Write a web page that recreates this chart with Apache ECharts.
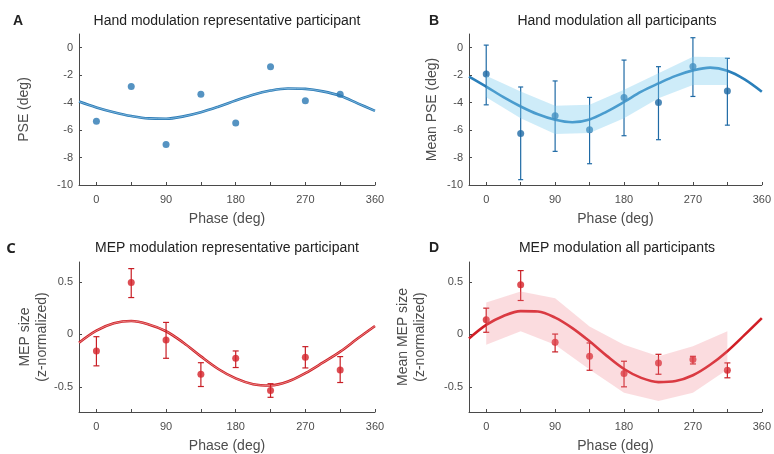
<!DOCTYPE html>
<html><head><meta charset="utf-8">
<script src="https://cdn.jsdelivr.net/npm/echarts@6/dist/echarts.min.js"></script>
<style>html,body{margin:0;padding:0;background:#fff}#c{width:774px;height:454px}</style>
</head><body><div id="c"></div>
<script>
// ---- data ----
const phases = [0, 45, 90, 135, 180, 225, 270, 315];
const fitPhases = [-22.5, 0, 22.5, 45, 67.5, 90, 112.5, 135, 157.5, 180, 202.5, 225, 247.5, 270, 292.5, 315, 337.5, 360];

// A: hand, representative participant
const aPSE = [-5.35, -2.83, -7.05, -3.39, -5.49, -1.38, -3.87, -3.39];
const aFit = [-3.92, -4.35, -4.7, -4.98, -5.15, -5.17, -5.0, -4.7, -4.3, -3.85, -3.42, -3.12, -2.97, -3.0, -3.18, -3.5, -4.05, -4.6];

// B: hand, all participants
const bMean = [-1.91, -6.25, -4.95, -5.97, -3.62, -3.99, -1.37, -3.16];
const bHi = [0.19, -2.86, -2.42, -3.62, -0.9, -1.38, 0.73, -0.77];
const bLo = [-4.16, -9.61, -7.55, -8.45, -6.41, -6.7, -3.55, -5.64];
const bFit = [-2.1, -2.83, -3.6, -4.28, -4.85, -5.25, -5.43, -5.22, -4.65, -3.95, -3.2, -2.6, -2.05, -1.65, -1.45, -1.67, -2.3, -3.2];
const bBandHi = [-2.05, -3.19, -4.23, -4.16, -3.07, -1.86, -0.65, -0.7];
const bBandLo = [-3.6, -5.13, -6.29, -6.22, -5.13, -3.68, -2.71, -2.71];

// C: MEP, representative participant
const cMean = [-0.158, 0.494, -0.054, -0.38, -0.228, -0.535, -0.218, -0.339];
const cHi = [-0.022, 0.627, 0.114, -0.27, -0.158, -0.47, -0.117, -0.212];
const cLo = [-0.30, 0.351, -0.228, -0.497, -0.316, -0.60, -0.32, -0.459];
const cFit = [-0.08, 0.035, 0.105, 0.127, 0.095, 0.03, -0.08, -0.21, -0.33, -0.42, -0.475, -0.487, -0.45, -0.37, -0.27, -0.165, -0.04, 0.08];

// D: MEP, all participants
const dMean = [0.14, 0.472, -0.076, -0.209, -0.373, -0.272, -0.24, -0.342];
const dHi = [0.25, 0.608, 0.003, -0.082, -0.256, -0.19, -0.209, -0.272];
const dLo = [0.02, 0.323, -0.167, -0.342, -0.5, -0.38, -0.282, -0.414];
const dFit = [-0.04, 0.09, 0.175, 0.222, 0.218, 0.16, 0.06, -0.066, -0.205, -0.33, -0.415, -0.455, -0.445, -0.39, -0.29, -0.16, -0.005, 0.155];
const dBandHi = [0.304, 0.408, 0.345, 0.076, -0.098, -0.209, -0.114, 0.029];
const dBandLo = [-0.098, 0.029, -0.098, -0.335, -0.557, -0.636, -0.557, -0.335];

// ticks
const xTicks = [0, 45, 90, 135, 180, 225, 270, 315, 360];
const xLabels = [0, 90, 180, 270, 360];
const yTicksAB = [-10, -8, -6, -4, -2, 0];
const yTicksCD = [-0.5, 0, 0.5];

// ---- chart ----
const FONT = '"Liberation Sans", Arial, sans-serif';
const axisCol = '#4a4a4a';
const txtCol = '#4d4d4d';

const grids = [
  {left: 79, top: 34, width: 296, height: 151},
  {left: 469, top: 34, width: 296, height: 151},
  {left: 79, top: 262, width: 296, height: 150},
  {left: 469, top: 262, width: 296, height: 150}
];

function xAxisDef(i) {
  return {
    type: 'value', gridIndex: i, min: -22.5, max: 360,
    axisLine: {show: true, onZero: false, lineStyle: {color: axisCol, width: 1}},
    axisTick: {show: true, inside: true, length: 3, customValues: xTicks, lineStyle: {color: axisCol}},
    axisLabel: {customValues: xLabels, color: txtCol, fontSize: 11, fontFamily: FONT, margin: 9},
    splitLine: {show: false},
    name: 'Phase (deg)', nameLocation: 'middle', nameGap: 27,
    nameTextStyle: {color: txtCol, fontSize: 14, fontFamily: FONT}
  };
}
function yAxisDef(i, min, max, ticks, name, gap) {
  return {
    type: 'value', gridIndex: i, min: min, max: max,
    axisLine: {show: true, onZero: false, lineStyle: {color: axisCol, width: 1}},
    axisTick: {show: true, inside: true, length: 3, customValues: ticks, lineStyle: {color: axisCol}},
    axisLabel: {customValues: ticks, color: txtCol, fontSize: 11, fontFamily: FONT, margin: 6},
    splitLine: {show: false},
    name: name, nameLocation: 'middle', nameGap: gap,
    nameTextStyle: {color: txtCol, fontSize: 14, fontFamily: FONT, lineHeight: 17}
  };
}

function pts(xs, ys) { return xs.map((x, i) => [x, ys[i]]); }

function errSeries(i, mean, lo, hi, color, cap) {
  return {
    type: 'custom', xAxisIndex: i, yAxisIndex: i, z: 3,
    data: phases.map((p, k) => [p, lo[k], hi[k]]),
    renderItem: function (params, api) {
      const x = api.value(0);
      const a = api.coord([x, api.value(2)]);
      const b = api.coord([x, api.value(1)]);
      const st = {stroke: color, lineWidth: 1.2};
      return {type: 'group', children: [
        {type: 'line', shape: {x1: a[0], y1: a[1], x2: b[0], y2: b[1]}, style: st},
        {type: 'line', shape: {x1: a[0] - cap, y1: a[1], x2: a[0] + cap, y2: a[1]}, style: st},
        {type: 'line', shape: {x1: b[0] - cap, y1: b[1], x2: b[0] + cap, y2: b[1]}, style: st}
      ]};
    }
  };
}

function bandSeries(i, lo, hi, fill) {
  return {
    type: 'custom', xAxisIndex: i, yAxisIndex: i, z: 6, silent: true,
    data: phases.map((p, k) => [p, lo[k], hi[k]]),
    renderItem: function (params, api) {
      if (params.dataIndex !== 0) return null;
      const up = phases.map((p, k) => api.coord([p, hi[k]]));
      const dn = phases.map((p, k) => api.coord([p, lo[k]])).reverse();
      return {type: 'polygon', shape: {points: up.concat(dn)}, style: {fill: fill}};
    }
  };
}

function fitLine(i, data, color, width, z) {
  return {
    type: 'line', xAxisIndex: i, yAxisIndex: i, data: pts(fitPhases, data),
    smooth: 0.35, showSymbol: false, symbol: 'none', z: z,
    lineStyle: {color: color, width: width}, silent: true
  };
}
function scatter(i, data, color, size) {
  return {
    type: 'scatter', xAxisIndex: i, yAxisIndex: i, data: pts(phases, data),
    symbolSize: size, itemStyle: {color: color}, z: 4
  };
}

const blue = '#2a78b3', blueDark = '#1f6aa5', red = '#d42229';

function titleDef(text, x, y, size, weight, fam) {
  return {text: text, left: x, top: y, textAlign: 'center', padding: 0,
    textStyle: {fontSize: size, fontWeight: weight, color: '#222', fontFamily: fam || FONT}};
}

const option = {
  animation: false,
  backgroundColor: '#fff',
  title: [
    titleDef('A', 18, 14, 14, 'bold'),
    titleDef('B', 434, 14, 14, 'bold'),
    titleDef('C', 11, 241, 15, 'bold', '"Open Sans", sans-serif'),
    titleDef('D', 434, 241, 14, 'bold'),
    titleDef('Hand modulation representative participant', 227, 14, 14, 'normal'),
    titleDef('Hand modulation all participants', 617, 14, 14, 'normal'),
    titleDef('MEP modulation representative participant', 227, 241, 14, 'normal'),
    titleDef('MEP modulation all participants', 617, 241, 14, 'normal')
  ],
  grid: grids,
  xAxis: [0, 1, 2, 3].map(xAxisDef),
  yAxis: [
    yAxisDef(0, -10, 1, yTicksAB, 'PSE (deg)', 46),
    yAxisDef(1, -10, 1, yTicksAB, 'Mean PSE (deg)', 28),
    yAxisDef(2, -0.74, 0.69, yTicksCD, 'MEP size\n(z-normalized)', 28),
    yAxisDef(3, -0.74, 0.69, yTicksCD, 'Mean MEP size\n(z-normalized)', 40)
  ],
  series: [
    // A
    fitLine(0, aFit, '#2c7bb6', 2.6, 2),
    fitLine(0, aFit, '#8cc0e2', 0.8, 2.5),
    scatter(0, aPSE, blue, 7),
    // B
    fitLine(1, bFit, '#2a7fba', 2.6, 2),
    errSeries(1, bMean, bLo, bHi, blueDark, 2.5),
    scatter(1, bMean, blueDark, 7),
    bandSeries(1, bBandLo, bBandHi, 'rgba(125,205,240,0.38)'),
    // C
    fitLine(2, cFit, '#cf2228', 2.6, 2),
    fitLine(2, cFit, '#ee9a9a', 0.8, 2.5),
    errSeries(2, cMean, cLo, cHi, '#c81e25', 3),
    scatter(2, cMean, red, 7),
    // D
    fitLine(3, dFit, '#d11f26', 2.6, 2),
    errSeries(3, dMean, dLo, dHi, '#c81e25', 3),
    scatter(3, dMean, red, 7),
    bandSeries(3, dBandLo, dBandHi, 'rgba(242,130,140,0.28)')
  ]
};

const chart = echarts.init(document.getElementById('c'), null, {renderer: 'canvas'});
chart.setOption(option);
</script>
</body></html>
